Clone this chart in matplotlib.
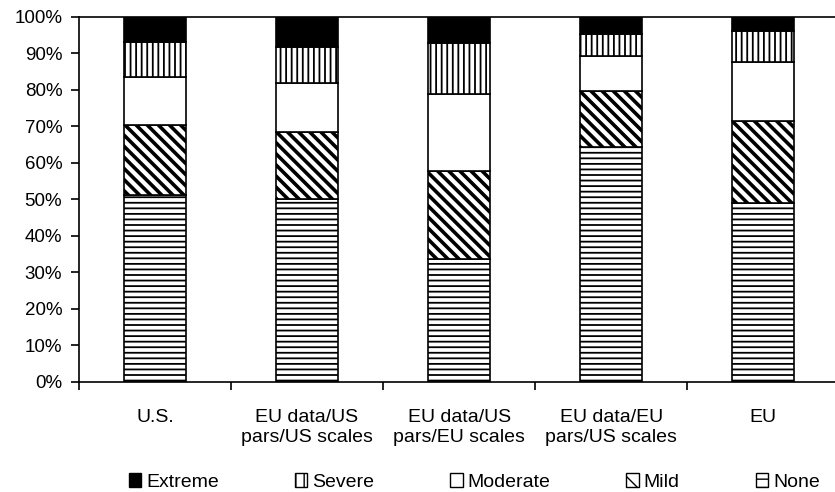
import numpy as np
import matplotlib.pyplot as plt
from matplotlib.patches import Patch

plt.rcParams['font.family'] = ['Liberation Sans', 'DejaVu Sans']

categories = ['U.S.', 'EU data/US\npars/US scales', 'EU data/US\npars/EU scales',
              'EU data/EU\npars/US scales', 'EU']
# share of each severity level (%), bottom to top
none_pct = [51.2, 50.0, 33.7, 64.4, 48.9]
mild_pct = [19.0, 18.4, 23.9, 15.2, 22.6]
moderate_pct = [13.2, 13.4, 21.3, 9.6, 16.0]
severe_pct = [9.7, 10.0, 13.8, 6.1, 8.7]
extreme_pct = [6.9, 8.2, 7.3, 4.7, 3.8]
y_ticks = [0, 10, 20, 30, 40, 50, 60, 70, 80, 90, 100]

series = [('None', none_pct, 'white', '---', 1.3),
          ('Mild', mild_pct, 'white', '\\\\\\', 2.6),
          ('Moderate', moderate_pct, 'white', '', 1.0),
          ('Severe', severe_pct, 'white', '|||', 1.3),
          ('Extreme', extreme_pct, 'black', '', 1.0)]
legend_hatch = {'None': '--', 'Mild': '\\\\', 'Moderate': '', 'Severe': '||', 'Extreme': ''}

fig = plt.figure(figsize=(8.35, 4.92), dpi=100)
ax = fig.add_axes([0.0946, 0.2242, 0.9104, 0.7419])

x = np.arange(len(categories))
bottom = np.zeros(len(categories))
handles = {}
for name, vals, fc, hatch, hlw in series:
    plt.rcParams['hatch.linewidth'] = hlw
    bars = ax.bar(x, vals, width=0.405, bottom=bottom, color=fc, edgecolor='black',
                  hatch=hatch, linewidth=1.2)
    for b in bars:
        if hasattr(b, 'set_hatch_linewidth'):
            b.set_hatch_linewidth(hlw)
    bottom += np.array(vals)
    h = Patch(facecolor=fc, edgecolor='black', hatch=legend_hatch[name], linewidth=1.0)
    if hasattr(h, 'set_hatch_linewidth'):
        h.set_hatch_linewidth(1.3)
    handles[name] = h

ax.set_xlim(-0.5, 4.5)
ax.set_ylim(0, 100)
ax.set_yticks(y_ticks)
ax.set_yticklabels([f'{v}%' for v in y_ticks], fontsize=13.5)
ax.set_xticks(x)
ax.set_xticklabels(categories, fontsize=14, linespacing=1.2)
ax.set_xticks(np.arange(-0.5, 5.0, 1.0), minor=True)
ax.tick_params(axis='x', which='major', length=0, pad=20)
ax.tick_params(axis='x', which='minor', length=6, width=1.2, direction='out')
ax.tick_params(axis='y', length=6, width=1.2, direction='out', pad=6)

for s in ['left', 'bottom', 'top']:
    ax.spines[s].set_linewidth(1.2)
ax.spines['right'].set_visible(False)

order = ['Extreme', 'Severe', 'Moderate', 'Mild', 'None']
fig.legend([handles[n] for n in order], order, loc='center', ncol=5,
           bbox_to_anchor=(0.568, 0.02), frameon=False, fontsize=14,
           handlelength=0.65, handleheight=0.75, handletextpad=0.25, columnspacing=3.9,
           borderpad=0.1)

fig.savefig('out.png', dpi=100)
